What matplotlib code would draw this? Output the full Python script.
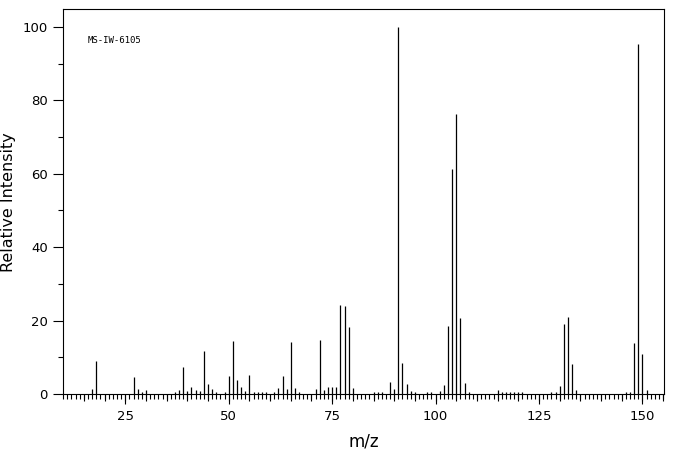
import matplotlib
matplotlib.use("Agg")
import matplotlib.pyplot as plt
from matplotlib.ticker import MultipleLocator, NullFormatter

# peaks (m/z, relative intensity)
mz = [17, 18, 27, 28, 29, 30, 37, 38, 39, 40, 41, 42, 43, 44, 45, 46, 47,
      49, 50, 51, 52, 53, 54, 55, 56, 57, 58, 59, 61, 62, 63, 64, 65, 66, 67,
      71, 72, 73, 74, 75, 76, 77, 78, 79, 80,
      85, 86, 87, 89, 90, 91, 92, 93, 94, 95, 98, 99,
      101, 102, 103, 104, 105, 106, 107, 108,
      115, 116, 117, 118, 119, 120, 121, 128, 129, 130, 131, 132, 133, 134,
      146, 147, 148, 149, 150, 151]
intensity = [1.4, 9.0, 4.6, 1.4, 0.6, 1.1, 0.5, 1.1, 7.4, 0.8, 1.9, 1.1, 0.8, 11.7, 2.7, 1.4, 0.5,
             0.5, 4.9, 14.5, 3.8, 1.9, 0.8, 5.2, 0.5, 0.5, 0.5, 0.5, 0.5, 1.6, 4.9, 1.4, 14.2, 1.6, 0.5,
             1.4, 14.7, 1.1, 1.9, 1.9, 1.9, 24.2, 24.0, 18.3, 1.6,
             0.5, 0.5, 0.5, 3.3, 1.4, 100.0, 8.4, 2.7, 0.8, 0.5, 0.5, 0.5,
             0.8, 2.5, 18.5, 61.3, 76.3, 20.7, 3.0, 0.5,
             1.1, 0.6, 0.6, 0.6, 0.6, 0.6, 0.6, 0.5, 0.5, 2.2, 19.1, 21.0, 8.2, 1.1,
             0.5, 0.5, 14.0, 95.4, 10.9, 1.1]

x_ticks = [25, 50, 75, 100, 125, 150]
y_ticks = [0, 20, 40, 60, 80, 100]

plt.rcParams['font.family'] = ['DejaVu Sans']

fig = plt.figure(figsize=(6.76, 4.55), dpi=100)
ax = fig.add_axes([63 / 676, 1 - 394 / 455, (664 - 63) / 676, (394 - 9.3) / 455])

ax.vlines(mz, 0, intensity, color='black', linewidth=0.9)

ax.set_xlim(9.95, 155.2)
ax.set_ylim(0, 104.8)

ax.set_xticks(x_ticks)
ax.set_yticks(y_ticks)
ax.xaxis.set_minor_locator(MultipleLocator(1))
ax.yaxis.set_minor_locator(MultipleLocator(10))
ax.tick_params(axis='x', which='major', direction='out', length=7.2, width=0.8,
               labelsize=9.5, pad=4)
ax.tick_params(axis='x', which='minor', direction='out', length=3.4, width=0.8)
ax.tick_params(axis='y', which='major', direction='out', length=7.2, width=0.8,
               labelsize=9.5, pad=3.6)
ax.tick_params(axis='y', which='minor', direction='out', length=3.6, width=0.8)

# medium ticks every 5
sec = ax.secondary_xaxis('bottom')
sec.set_xticks(list(range(15, 156, 5)))
sec.xaxis.set_major_formatter(NullFormatter())
sec.tick_params(direction='out', length=5.0, width=0.8)
sec.spines['bottom'].set_visible(False)

for s in ax.spines.values():
    s.set_linewidth(0.8)

ax.set_xlabel('m/z', fontsize=12, labelpad=7)
ax.set_ylabel('Relative Intensity', fontsize=11.5, labelpad=5)

ax.text(0.0416, 0.9176, 'MS-IW-6105', transform=ax.transAxes, fontsize=6.5,
        family='DejaVu Sans Mono', va='center', ha='left')

fig.savefig('out.png', dpi=100)
